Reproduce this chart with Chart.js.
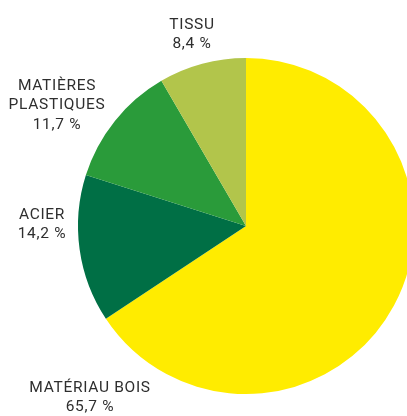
<!DOCTYPE html>
<html>
<head>
<meta charset="utf-8">
<script src="https://cdn.jsdelivr.net/npm/chart.js@4"></script>
<style>
  html, body { margin: 0; padding: 0; background: #fff; overflow: hidden; }
  #wrap { width: 425px; height: 416px; }
</style>
</head>
<body>
<div id="wrap"><canvas id="chart" width="425" height="416"></canvas></div>
<script>
const categories = ["MATÉRIAU BOIS", "ACIER", "MATIÈRES PLASTIQUES", "TISSU"];
const shares = [65.7, 14.2, 11.7, 8.4];
const labelLines = [
  ["MATÉRIAU BOIS", "65,7 %"],
  ["ACIER", "14,2 %"],
  ["MATIÈRES", "PLASTIQUES", "11,7 %"],
  ["TISSU", "8,4 %"]
];
const colors = ["#ffec00", "#006f45", "#2a9b3a", "#b2c54b"];

// where each label block sits (centre x, first line y)
const labelPos = [
  { x: 90, y: 388 },
  { x: 42, y: 215 },
  { x: 57, y: 86 },
  { x: 192, y: 25 }
];

const outsideLabels = {
  id: "outsideLabels",
  afterDraw(chart) {
    const ctx = chart.ctx;
    ctx.save();
    ctx.font = "15.5px Roboto";
    ctx.letterSpacing = "0.7px";
    ctx.fillStyle = "#2e2e2e";
    ctx.textAlign = "center";
    ctx.textBaseline = "middle";
    labelLines.forEach((lines, i) => {
      lines.forEach((t, j) => {
        ctx.fillText(t, labelPos[i].x, labelPos[i].y + j * 19.5);
      });
    });
    ctx.restore();
  }
};

new Chart(document.getElementById("chart"), {
  type: "pie",
  data: {
    labels: categories,
    datasets: [{ data: shares, backgroundColor: colors, borderWidth: 0 }]
  },
  options: {
    responsive: false,
    animation: false,
    layout: { padding: { left: 78, right: 11, top: 57, bottom: 21 } },
    plugins: { legend: { display: false }, tooltip: { enabled: false } }
  },
  plugins: [outsideLabels]
});
</script>
</body>
</html>
